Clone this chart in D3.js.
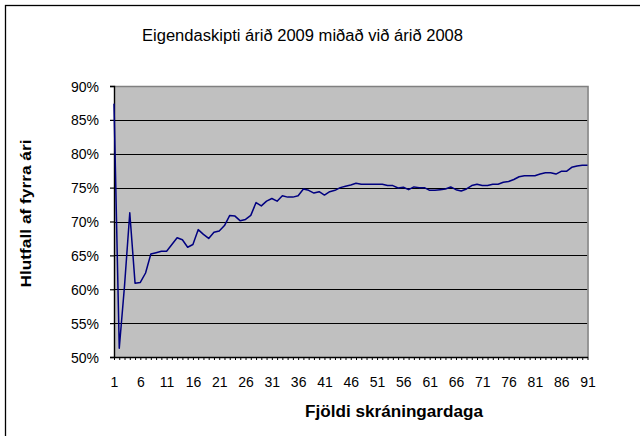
<!DOCTYPE html>
<html>
<head>
<meta charset="utf-8">
<script src="https://cdn.jsdelivr.net/npm/d3@7"></script>
<style>
html,body{margin:0;padding:0;background:#fff;}
svg{display:block;font-family:"Liberation Sans",Arial,sans-serif;}
</style>
</head>
<body>
<svg id="chart" width="640" height="436"></svg>
<script>
const title = "Eigendaskipti árið 2009 miðað við árið 2008";
const xTitle = "Fjöldi skráningardaga";
const yTitle = "Hlutfall af fyrra ári";
const days = d3.range(1, 92);
const values = [
 87.4, 51.3, 60.5, 71.3, 60.9, 61.0, 62.4, 65.2, 65.4, 65.6,
 65.6, 66.6, 67.6, 67.3, 66.2, 66.6, 68.8, 68.1, 67.5, 68.4,
 68.6, 69.4, 70.9, 70.8, 70.1, 70.3, 70.9, 72.8, 72.3, 73.0,
 73.4, 73.0, 73.8, 73.6, 73.6, 73.8, 74.8, 74.6, 74.2, 74.4,
 73.9, 74.4, 74.6, 75.0, 75.2, 75.4, 75.65, 75.5, 75.5, 75.5,
 75.5, 75.5, 75.3, 75.3, 74.95, 75.05, 74.7, 75.1, 75.0, 75.0,
 74.6, 74.6, 74.7, 74.8, 75.1, 74.7, 74.5, 74.8, 75.3, 75.5,
 75.3, 75.3, 75.5, 75.5, 75.8, 75.9, 76.2, 76.6, 76.75, 76.75,
 76.75, 77.0, 77.2, 77.2, 77.0, 77.4, 77.4, 78.0, 78.2, 78.3,
 78.3
];
const yTicks = [50, 55, 60, 65, 70, 75, 80, 85, 90];
const xTickLabels = [1, 6, 11, 16, 21, 26, 31, 36, 41, 46, 51, 56, 61, 66, 71, 76, 81, 86, 91];

const svg = d3.select("#chart");
const L = 114, R = 587.5, T = 86, B = 357;

const x = d3.scaleLinear().domain([1, 91]).range([L, R]);
const y = d3.scaleLinear().domain([50, 90]).range([B, T]);

// outer chart border (cut off right/bottom)
svg.append("rect").attr("x", 5.5).attr("y", 5.5).attr("width", 700).attr("height", 500)
  .attr("fill", "#fff").attr("stroke", "#000").attr("stroke-width", 1.3);

// plot background
svg.append("rect").attr("x", L).attr("y", T).attr("width", R - L).attr("height", B - T)
  .attr("fill", "#c0c0c0");

// gridlines
svg.append("g").selectAll("line").data(yTicks.filter(v => v > 50 && v < 90)).join("line")
  .attr("x1", L).attr("x2", R).attr("y1", d => Math.round(y(d)) + 0.5).attr("y2", d => Math.round(y(d)) + 0.5)
  .attr("stroke", "#000").attr("stroke-width", 1.2);

// plot border top/right gray
svg.append("path")
  .attr("d", `M${L},${T + 0.5}H${R + 0.5}V${B}`)
  .attr("fill", "none").attr("stroke", "#808080").attr("stroke-width", 1.6);

// y axis
const yAxis = d3.axisLeft(y).tickValues(yTicks).tickSize(4).tickFormat(d => d + "%");
const gy = svg.append("g").attr("transform", `translate(${L},0)`).call(yAxis);
gy.select(".domain").attr("stroke", "#000").attr("stroke-width", 1.4);
gy.selectAll(".tick line").attr("stroke", "#000").attr("stroke-width", 1.2);
gy.selectAll(".tick text").attr("font-size", 14).attr("font-family", "Liberation Sans, Arial, sans-serif")
  .attr("fill", "#000").attr("x", -15).attr("dy", "0.36em");

// x axis (ticks at every category, labels every 5)
const xAxis = d3.axisBottom(x).tickValues(days).tickSize(3).tickSizeOuter(0)
  .tickFormat(d => xTickLabels.includes(d) ? d : "");
const gx = svg.append("g").attr("transform", `translate(0,${B})`).call(xAxis);
gx.select(".domain").attr("stroke", "#000").attr("stroke-width", 1.6);
gx.selectAll(".tick line").attr("stroke", "#000").attr("stroke-width", 1);
gx.selectAll(".tick text").attr("font-size", 14).attr("font-family", "Liberation Sans, Arial, sans-serif")
  .attr("fill", "#000").attr("y", 20).attr("dy", "0.71em");

// data line
const line = d3.line().x((d, i) => x(days[i])).y(d => y(d));
svg.append("path").datum(values).attr("d", line)
  .attr("fill", "none").attr("stroke", "#000080").attr("stroke-width", 1.5)
  .attr("stroke-linejoin", "round");

// titles
svg.append("text").attr("x", 302.5).attr("y", 41).attr("text-anchor", "middle")
  .attr("font-size", 16).attr("textLength", 321).attr("lengthAdjust", "spacingAndGlyphs")
  .text(title);
svg.append("text").attr("x", 394).attr("y", 417).attr("text-anchor", "middle")
  .attr("font-size", 16).attr("font-weight", "bold").attr("textLength", 178).attr("lengthAdjust", "spacingAndGlyphs")
  .text(xTitle);
svg.append("text").attr("transform", "translate(31,213.5) rotate(-90)").attr("text-anchor", "middle")
  .attr("font-size", 15).attr("font-weight", "bold").attr("textLength", 148).attr("lengthAdjust", "spacingAndGlyphs")
  .text(yTitle);
</script>
</body>
</html>
